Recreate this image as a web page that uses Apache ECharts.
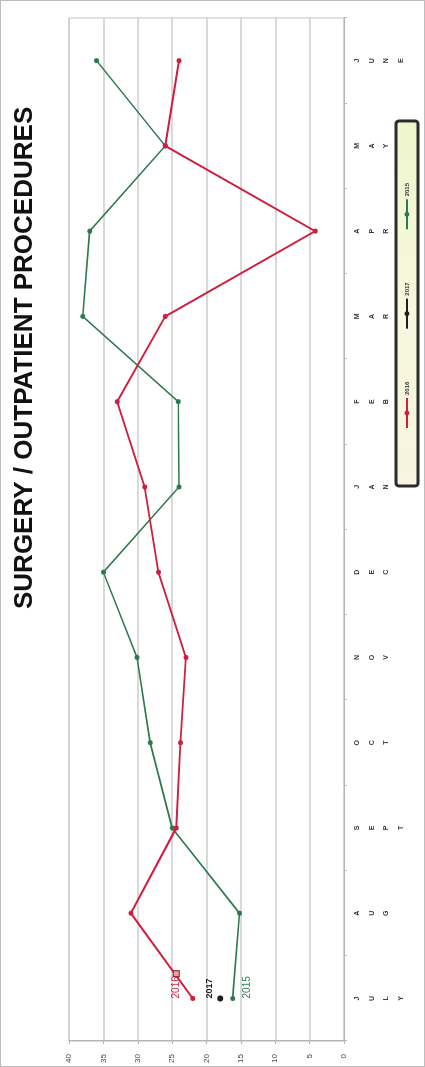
<!DOCTYPE html>
<html>
<head>
<meta charset="utf-8">
<title>Surgery / Outpatient Procedures</title>
<script src="https://cdn.jsdelivr.net/npm/echarts@6/dist/echarts.min.js"></script>
<style>
  html, body { margin: 0; padding: 0; background: #ffffff; overflow: hidden; }
  body { width: 425px; height: 1067px; position: relative; }
  /* The chart is laid out landscape and turned a quarter turn counter-clockwise */
  #chart {
    position: absolute; left: 0; top: 0;
    width: 1067px; height: 425px;
    box-sizing: border-box;
    border: 1px solid #bdbdbd;
    transform-origin: 0 0;
    transform: translateY(1067px) rotate(-90deg);
  }
</style>
</head>
<body>
<div id="chart"></div>
<script>
// Months of the fiscal year
const months = ['JULY', 'AUG', 'SEPT', 'OCT', 'NOV', 'DEC', 'JAN', 'FEB', 'MAR', 'APR', 'MAY', 'JUNE'];

// Procedures per month
const fy2015 = [16.2, 15.2, 25, 28.2, 30.1, 35, 24, 24.1, 38, 37, 26, 36];
const fy2016 = [22, 31, 24.4, 23.8, 23, 27, 29, 33, 26, 4.2, 26, 24];
const fy2017 = [18];

// Value axis ticks
const valueTicks = [0, 5, 10, 15, 20, 25, 30, 35, 40];

const RED = '#cf1f3e';
const GREEN = '#2e7a4f';
const BLACK = '#1e1e1e';

// First point of each year carries the year as its label
function withYearLabel(values, labelOpts) {
  return values.map((v, i) => i === 0 ? { value: v, label: Object.assign({ show: true }, labelOpts) } : v);
}

const chart = echarts.init(document.getElementById('chart'), null, { renderer: 'canvas' });

chart.setOption({
  backgroundColor: '#ffffff',
  animation: false,
  title: {
    text: 'SURGERY / OUTPATIENT PROCEDURES',
    left: 452,
    top: 6,
    textStyle: { fontFamily: 'Liberation Sans', fontWeight: 'bold', fontSize: 26, color: '#111111' }
  },
  legend: {
    data: ['2016', '2017', '2015'],
    left: 580,
    top: 395,
    padding: [8, 62, 8, 57],
    itemGap: 52,
    itemWidth: 30,
    itemHeight: 6,
    backgroundColor: {
      type: 'linear', x: 0, y: 0, x2: 1, y2: 0,
      colorStops: [
        { offset: 0, color: '#f8f4df' },
        { offset: 0.5, color: '#f6f8dc' },
        { offset: 1, color: '#eef6cc' }
      ]
    },
    borderColor: '#2b2b2b',
    borderWidth: 3,
    borderRadius: 3,
    textStyle: { fontFamily: 'Liberation Sans', fontSize: 6, fontWeight: 'bold', color: '#333333', padding: [0, 0, 0, -2] }
  },
  grid: {
    left: 24, right: 17, top: 68, bottom: 80,
    show: true,
    borderColor: '#c4c4c4',
    borderWidth: 1
  },
  xAxis: {
    type: 'category',
    data: months,
    boundaryGap: true,
    axisLine: { show: true, lineStyle: { color: '#b5b5b5', width: 1 } },
    axisTick: { show: true, length: 3, lineStyle: { color: '#b5b5b5' } },
    axisLabel: {
      margin: 6,
      formatter: m => m.split('').join('\n'),
      fontFamily: 'Liberation Sans',
      fontSize: 7,
      fontWeight: 'bold',
      lineHeight: 14.5,
      color: '#3a3a3a',
      verticalAlign: 'top'
    }
  },
  yAxis: {
    type: 'value',
    min: valueTicks[0],
    max: valueTicks[valueTicks.length - 1],
    interval: 5,
    axisLine: { show: true, lineStyle: { color: '#b5b5b5', width: 1 } },
    axisTick: { show: true, length: 3, lineStyle: { color: '#b5b5b5' } },
    splitLine: { show: true, lineStyle: { color: '#cdcdcd', width: 1.5 } },
    axisLabel: {
      margin: 13,
      fontFamily: 'Liberation Sans',
      fontSize: 8,
      color: '#444444'
    }
  },
  series: [
    {
      name: '2016',
      type: 'line',
      data: withYearLabel(fy2016, {
        position: 'top', align: 'left', distance: 9,
        formatter: '{t|{a}}{k|}',
        rich: {
          t: { fontFamily: 'Liberation Sans', fontSize: 10, color: RED },
          k: { width: 5, height: 5, borderColor: '#8c1020', borderWidth: 1, backgroundColor: '#e8a0a8' }
        }
      }),
      color: RED,
      symbol: 'circle',
      symbolSize: 5,
      lineStyle: { width: 2, color: RED },
      itemStyle: { color: RED },
      z: 3
    },
    {
      name: '2017',
      type: 'line',
      data: withYearLabel(fy2017, {
        position: 'top', align: 'left', distance: 3,
        formatter: '{a}',
        fontFamily: 'Liberation Sans', fontSize: 9, fontWeight: 'bold', color: BLACK
      }),
      color: BLACK,
      symbol: 'circle',
      symbolSize: 6,
      lineStyle: { width: 2, color: BLACK },
      itemStyle: { color: BLACK },
      z: 4
    },
    {
      name: '2015',
      type: 'line',
      data: withYearLabel(fy2015, {
        position: 'bottom', align: 'left', distance: 7,
        formatter: '{a}',
        fontFamily: 'Liberation Sans', fontSize: 10, color: GREEN
      }),
      color: GREEN,
      symbol: 'circle',
      symbolSize: 5,
      lineStyle: { width: 1.6, color: GREEN },
      itemStyle: { color: GREEN },
      z: 2
    }
  ]
});
</script>
</body>
</html>
